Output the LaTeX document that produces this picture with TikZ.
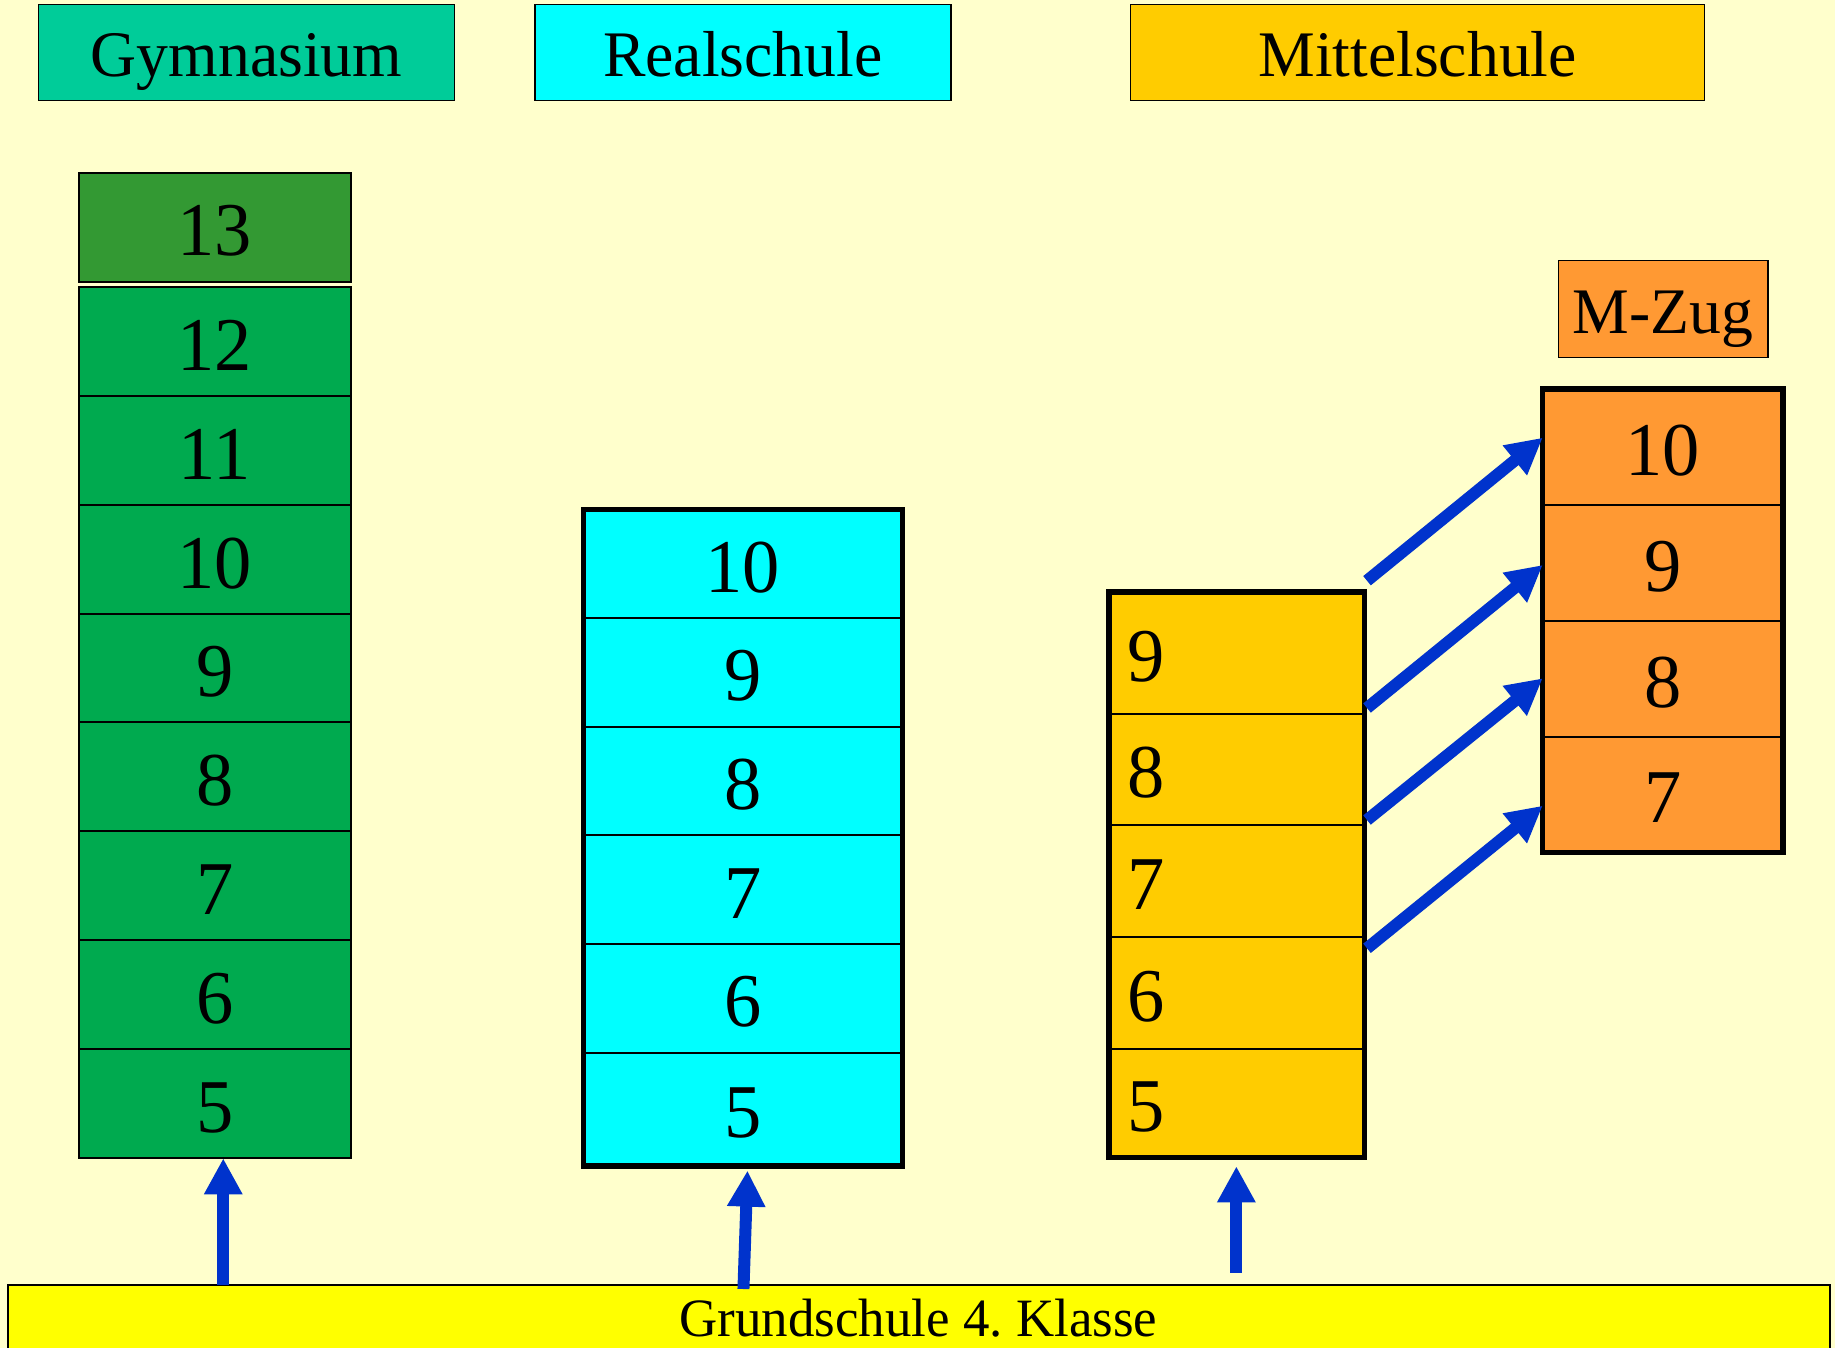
\documentclass[tikz,border=0pt]{standalone}
\usepackage{fontspec}
\setmainfont{Liberation Serif}[FakeStretch=0.98]
\usetikzlibrary{arrows.meta,calc}
\definecolor{bg}{HTML}{FFFFCC}
\definecolor{gymhead}{HTML}{00CC99}
\definecolor{gymcell}{HTML}{00AA4F}
\definecolor{gymtop}{HTML}{339933}
\definecolor{realc}{HTML}{00FFFF}
\definecolor{mittc}{HTML}{FFCC00}
\definecolor{mzugc}{HTML}{FF9933}
\definecolor{gsc}{HTML}{FFFF00}
\definecolor{arrowc}{HTML}{0033CC}
\frenchspacing
\begin{document}
\begin{tikzpicture}[x=1pt,y=-1pt,
  cell/.style={draw=black, line width=2pt, rectangle, inner sep=0pt, outer sep=0pt,
    font=\fontsize{76}{80}\selectfont, text height=57pt, text depth=0pt},
  gcell/.style={cell, fill=gymcell, minimum width=272.5pt},
  rcell/.style={cell, fill=realc, minimum width=318.7pt},
  mcell/.style={cell, fill=mittc, minimum width=255.7pt, text width=219.7pt, inner xsep=18pt, align=left},
  zcell/.style={cell, fill=mzugc, minimum width=240.3pt},
  head/.style={draw=black, line width=1.6pt, rectangle, inner sep=0pt, outer sep=0pt,
    font=\fontsize{65}{70}\selectfont, text height=48pt, text depth=0pt, minimum height=96pt},
  frame/.style={draw=black, line width=5.5pt},
  arr/.style={draw=arrowc, line width=12pt, -{Triangle[length=36pt,width=36pt]}},
]
\fill[bg] (0,0) rectangle (1835,1348);
\useasboundingbox (0,0) rectangle (1835,1348);

% headers
\node[head, fill=gymhead, minimum width=415.9pt] (hg) at (246.6,52.7) {Gymnasium};
\node[head, fill=realc, minimum width=416pt] (hr) at (742.8,52.7) {Realschule};
\node[head, fill=mittc, minimum width=574pt] (hm) at (1417.6,52.7) {Mittelschule};
\node[head, fill=mzugc, minimum width=209.4pt, minimum height=96.6pt] (hz) at (1663,309) {M-Zug};

% Gymnasium
\node[gcell, fill=gymtop, minimum height=108.8pt] (g13) at (214.75,227.1) {13};
\node[gcell, minimum height=109pt] (g12) at (214.75,341.5) {12};
\node[gcell, minimum height=109pt] (g11) at (214.75,450.5) {11};
\node[gcell, minimum height=109pt] (g10) at (214.75,559.5) {10};
\node[gcell, minimum height=108pt] (g9) at (214.75,668) {9};
\node[gcell, minimum height=109pt] (g8) at (214.75,776.5) {8};
\node[gcell, minimum height=109pt] (g7) at (214.75,885.5) {7};
\node[gcell, minimum height=109pt] (g6) at (214.75,994.5) {6};
\node[gcell, minimum height=109pt] (g5) at (214.75,1103.5) {5};

% Realschule
\node[rcell, minimum height=108.4pt] (r10) at (742.95,563.6) {10};
\node[rcell, minimum height=108.7pt] (r9) at (742.95,672.15) {9};
\node[rcell, minimum height=108.5pt] (r8) at (742.95,780.75) {8};
\node[rcell, minimum height=109pt] (r7) at (742.95,889.5) {7};
\node[rcell, minimum height=108.8pt] (r6) at (742.95,998.4) {6};
\node[rcell, minimum height=113pt] (r5) at (742.95,1109.3) {5};
\draw[frame] (r10.north west) rectangle (r5.south east);

% Mittelschule
\node[mcell, minimum height=121.6pt] (m9) at (1236.85,652.8) {9};
\node[mcell, minimum height=111.7pt] (m8) at (1236.85,769.45) {8};
\node[mcell, minimum height=111.4pt] (m7) at (1236.85,881) {7};
\node[mcell, minimum height=112.2pt] (m6) at (1236.85,992.8) {6};
\node[mcell, minimum height=108.6pt] (m5) at (1236.85,1103.2) {5};
\draw[frame] (m9.north west) rectangle (m5.south east);

% M-Zug
\node[zcell, minimum height=115.7pt] (z10) at (1662.85,446.85) {10};
\node[zcell, minimum height=115.8pt] (z9) at (1662.85,562.6) {9};
\node[zcell, minimum height=116pt] (z8) at (1662.85,678.5) {8};
\node[zcell, minimum height=115.9pt] (z7) at (1662.85,794.45) {7};
\draw[frame] (z10.north west) rectangle (z7.south east);

% Grundschule
\node[draw=black, line width=2pt, fill=gsc, rectangle, inner sep=0pt, outer sep=0pt,
  minimum width=1822pt, minimum height=70pt, font=\fontsize{54}{60}\selectfont,
  text height=33.4pt, text depth=0pt] (gs) at (918.5,1320) {Grundschule 4. Klasse};

% vertical arrows
\coordinate (ga) at ($(g5.south)+(8.5,0.3)$);
\draw[arr] (ga |- gs.north) -- (ga);
\coordinate (ra0) at ($(r5.south)+(0.5,123.2)$);
\coordinate (ra1) at ($(r5.south)+(4.5,4.8)$);
\draw[arr] (ra0) -- (ra1);
\coordinate (ma0) at ($(m5.south)+(-0.5,115)$);
\coordinate (ma1) at ($(m5.south)+(-0.5,8.8)$);
\draw[arr] (ma0) -- (ma1);

% diagonal arrows Mittelschule -> M-Zug
\draw[arr] ($(m9.north east)+(2.3,-11.3)$) -- ($(z10.north west)+(0,48.7)$);
\draw[arr] ($(m8.north east)+(2.3,-5.6)$) -- ($(z9.north west)+(0,60.3)$);
\draw[arr] ($(m7.north east)+(2.3,-5.3)$) -- ($(z8.north west)+(0,57.8)$);
\draw[arr] ($(m6.north east)+(2.3,11.6)$) -- ($(z7.north west)+(0,69.2)$);
\end{tikzpicture}
\end{document}
